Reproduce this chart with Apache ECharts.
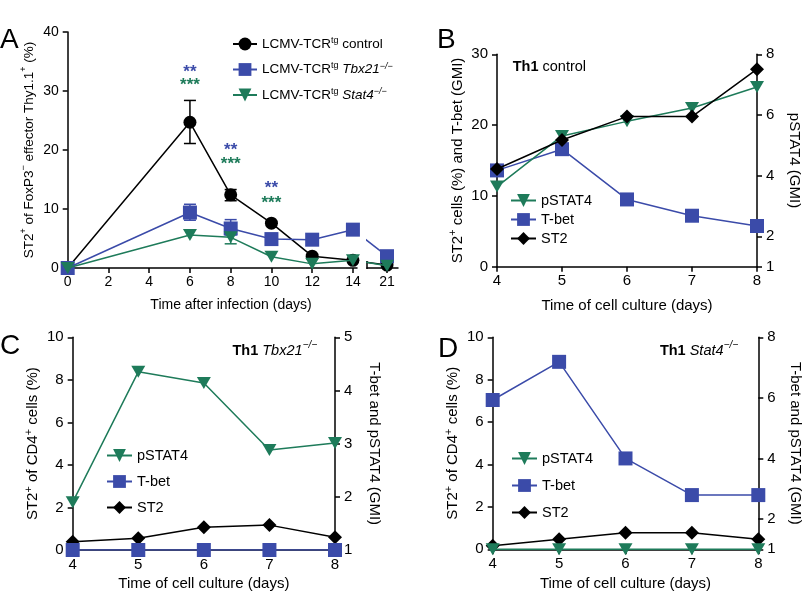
<!DOCTYPE html>
<html><head><meta charset="utf-8">
<script src="https://cdn.jsdelivr.net/npm/echarts@6/dist/echarts.min.js"></script>
<style>html,body{margin:0;padding:0;background:#fff}#c{width:805px;height:595px}</style>
</head><body><div id="c"></div>
<script>
// ---------- DATA ----------
// Panel A
const daysA = [0, 6, 8, 10, 12, 14, 21];
const ctrlA = [0, 24.7, 12.4, 7.6, 2.0, 1.3, 0.5];
const tbxA  = [0, 9.4, 6.7, 4.9, 4.8, 6.5, 2.0];
const statA = [0, 5.6, 5.2, 1.9, 0.7, 1.3, 0.4];
const errDaysCtrl = [6, 8];  const errLowCtrl = [21.1, 11.4]; const errHighCtrl = [28.4, 13.3];
const errDaysTbx  = [6, 8];  const errLowTbx  = [8.1, 5.6];   const errHighTbx  = [10.8, 8.2];
const errDaysStat = [8];     const errLowStat = [4.1];        const errHighStat = [6.2];
const starDays = [6, 8, 10];
const starTbxY  = [33.1, 19.9, 13.5];
const starStatY = [30.9, 17.5, 10.9];
const ticksA = [0, 2, 4, 6, 8, 10, 12, 14];
const ticksA2 = [21];
// Panels B-D
const daysCulture = [4, 5, 6, 7, 8];
const B_st2 = [13.8, 17.9, 21.2, 21.2, 27.9];
const B_tbet = [13.6, 16.6, 9.5, 7.2, 5.75];
const B_pstat4 = [3.64, 5.31, 5.79, 6.23, 6.92];
const C_st2 = [0.39, 0.55, 1.07, 1.17, 0.6];
const C_tbet = [1, 1, 1, 1, 1];
const C_pstat4 = [1.9, 4.35, 4.14, 2.88, 3.01];
const D_st2 = [0.17, 0.47, 0.78, 0.78, 0.47];
const D_tbet = [5.93, 7.19, 4.0, 2.79, 2.79];
const D_pstat4 = [1, 1, 1, 1, 1];
const rightTicks8 = [1, 2, 4, 6, 8];

// ---------- STYLE ----------
const FONT = "'Liberation Sans', Arial, Helvetica, sans-serif";
const BLACK = '#000000', BLUE = '#3B4BA9', GREEN = '#1E7B5A';
const pairs = (xs, ys) => xs.map((x, i) => [x, ys[i]]);
const mkRich = (fs) => ({
  sup: {fontSize: Math.round(fs * 0.7), verticalAlign: 'top', lineHeight: 10, fontFamily: FONT, color: '#000'},
  it: {fontStyle: 'italic', fontSize: fs, fontFamily: FONT, color: '#000'},
  supit: {fontSize: Math.round(fs * 0.7), fontStyle: 'italic', verticalAlign: 'top', lineHeight: 10, fontFamily: FONT, color: '#000'}
});
const TICK = {show: true, length: 5, lineStyle: {color: '#000', width: 1.5}};
const lbl = (margin, fs, extra) => Object.assign({color: '#000', fontSize: fs, fontFamily: FONT, margin}, extra || {});
function axisBase(fs, extra) {
  return Object.assign({
    type: 'value',
    axisLine: {show: true, onZero: false, lineStyle: {color: '#000', width: 1.5}},
    axisTick: TICK,
    splitLine: {show: false},
    nameTextStyle: {color: '#000', fontSize: fs, fontFamily: FONT, lineHeight: 20, rich: mkRich(fs)}
  }, extra);
}

const grids = [
  {left: 67.7, top: 32, width: 289.3, height: 236},
  {left: 367, top: 32, width: 31, height: 236},
  {left: 497, top: 54.3, width: 260, height: 212.4},
  {left: 72.7, top: 337.3, width: 262.3, height: 212.7},
  {left: 492.7, top: 337.3, width: 265.6, height: 212}
].map(g => Object.assign({outerBoundsMode: 'none', containLabel: false}, g));

const cultureX = (gi, gap) => axisBase(15, {gridIndex: gi, min: 4, max: 8, interval: 1, axisLabel: lbl(7, 15),
  name: 'Time of cell culture (days)', nameLocation: 'middle', nameGap: gap});

const xAxes = [
  axisBase(14, {gridIndex: 0, min: 0, max: 14.2,
    axisLabel: lbl(7, 14, {customValues: ticksA}),
    axisTick: Object.assign({customValues: ticksA}, TICK)}),
  axisBase(14, {gridIndex: 1, min: 16.88, max: 23.26,
    axisLabel: lbl(7, 14, {customValues: ticksA2}),
    axisTick: Object.assign({customValues: ticksA2}, TICK)}),
  cultureX(2, 29), cultureX(3, 24), cultureX(4, 25)
];

const yAxes = [
  axisBase(13.5, {gridIndex: 0, min: 0, max: 40, interval: 10, nameLocation: 'middle', nameGap: 25, axisLabel: lbl(9, 14),
    name: 'ST2{sup|+} of FoxP3{sup|−} effector Thy1.1{sup|+} (%)'}),
  axisBase(13.5, {gridIndex: 1, min: 0, max: 40, show: false}),
  axisBase(15, {gridIndex: 2, min: 0, max: 30, interval: 10, nameLocation: 'middle', nameGap: 26, axisLabel: lbl(9, 15),
    name: 'ST2{sup|+} cells (%) and T-bet (GMI)'}),
  axisBase(15, {gridIndex: 2, min: 1, max: 8, position: 'right', nameLocation: 'middle', nameGap: 27, nameRotate: -90,
    name: 'pSTAT4 (GMI)',
    axisLabel: lbl(9, 15, {customValues: rightTicks8}),
    axisTick: Object.assign({customValues: rightTicks8}, TICK)}),
  axisBase(15, {gridIndex: 3, min: 0, max: 10, interval: 2, nameLocation: 'middle', nameGap: 28, axisLabel: lbl(9, 15),
    name: 'ST2{sup|+} of CD4{sup|+} cells (%)'}),
  axisBase(15, {gridIndex: 3, min: 1, max: 5, interval: 1, position: 'right', nameLocation: 'middle', nameGap: 29, nameRotate: -90,
    axisLabel: lbl(9, 15), name: 'T-bet and pSTAT4 (GMI)'}),
  axisBase(15, {gridIndex: 4, min: 0, max: 10, interval: 2, nameLocation: 'middle', nameGap: 26, axisLabel: lbl(9, 15),
    name: 'ST2{sup|+} of CD4{sup|+} cells (%)'}),
  axisBase(15, {gridIndex: 4, min: 1, max: 8, position: 'right', nameLocation: 'middle', nameGap: 27, nameRotate: -90,
    name: 'T-bet and pSTAT4 (GMI)',
    axisLabel: lbl(9, 15, {customValues: rightTicks8}),
    axisTick: Object.assign({customValues: rightTicks8}, TICK)})
];

const symCircle = {symbol: 'circle', symbolSize: 13};
const symSquare = {symbol: 'rect', symbolSize: 14};
const symTriDown = {symbol: 'triangle', symbolSize: [14, 12], symbolRotate: 180};
const symDiamond = {symbol: 'diamond', symbolSize: 14};

function lineSeries(name, color, sym, xi, yi, data, z) {
  return Object.assign({
    type: 'line', name, xAxisIndex: xi, yAxisIndex: yi, data, clip: true,
    color, lineStyle: {color, width: 1.5}, itemStyle: {color, opacity: 1},
    showAllSymbol: true, animation: false, z: z || 2
  }, sym);
}
function errSeries(color, xi, yi, xs, lo, hi) {
  return {
    type: 'custom', xAxisIndex: xi, yAxisIndex: yi, animation: false, z: 1,
    data: xs.map((x, i) => [x, lo[i], hi[i]]),
    renderItem: (params, api) => {
      const p1 = api.coord([api.value(0), api.value(1)]);
      const p2 = api.coord([api.value(0), api.value(2)]);
      const w = 6;
      const st = {stroke: color, lineWidth: 1.5};
      return {type: 'group', children: [
        {type: 'line', shape: {x1: p1[0], y1: p1[1], x2: p2[0], y2: p2[1]}, style: st},
        {type: 'line', shape: {x1: p1[0] - w, y1: p1[1], x2: p1[0] + w, y2: p1[1]}, style: st},
        {type: 'line', shape: {x1: p2[0] - w, y1: p2[1], x2: p2[0] + w, y2: p2[1]}, style: st}
      ]};
    }
  };
}
function starSeries(color, text, ys) {
  return {
    type: 'custom', xAxisIndex: 0, yAxisIndex: 0, animation: false, silent: true, z: 6,
    data: starDays.map((d, i) => [d, ys[i]]),
    renderItem: (params, api) => {
      const p = api.coord([api.value(0), api.value(1)]);
      return {type: 'text', x: p[0], y: p[1], style: {text, fill: color, font: `bold 17px ${FONT}`, align: 'center', verticalAlign: 'middle'}};
    }
  };
}

const upTo14 = (arr) => pairs(daysA, arr).filter(p => p[0] <= 14);
const after14 = (arr) => pairs(daysA, arr).filter(p => p[0] >= 14);

const series = [
  errSeries(BLACK, 0, 0, errDaysCtrl, errLowCtrl, errHighCtrl),
  errSeries(BLUE, 0, 0, errDaysTbx, errLowTbx, errHighTbx),
  errSeries(GREEN, 0, 0, errDaysStat, errLowStat, errHighStat),
  lineSeries('ctrl', BLACK, symCircle, 0, 0, upTo14(ctrlA), 3),
  lineSeries('tbx', BLUE, symSquare, 0, 0, upTo14(tbxA), 4),
  lineSeries('stat', GREEN, symTriDown, 0, 0, upTo14(statA), 5),
  lineSeries('ctrl', BLACK, symCircle, 1, 1, after14(ctrlA), 3),
  lineSeries('tbx', BLUE, symSquare, 1, 1, after14(tbxA), 4),
  lineSeries('stat', GREEN, symTriDown, 1, 1, after14(statA), 5),
  starSeries(BLUE, '**', starTbxY),
  starSeries(GREEN, '***', starStatY),
  // B
  lineSeries('T-bet', BLUE, symSquare, 2, 2, pairs(daysCulture, B_tbet), 3),
  lineSeries('pSTAT4', GREEN, symTriDown, 2, 3, pairs(daysCulture, B_pstat4), 4),
  lineSeries('ST2', BLACK, symDiamond, 2, 2, pairs(daysCulture, B_st2), 5),
  // C
  lineSeries('pSTAT4', GREEN, symTriDown, 3, 5, pairs(daysCulture, C_pstat4), 3),
  lineSeries('ST2', BLACK, symDiamond, 3, 4, pairs(daysCulture, C_st2), 4),
  lineSeries('T-bet', BLUE, symSquare, 3, 5, pairs(daysCulture, C_tbet), 5),
  // D
  lineSeries('T-bet', BLUE, symSquare, 4, 7, pairs(daysCulture, D_tbet), 3),
  lineSeries('ST2', BLACK, symDiamond, 4, 6, pairs(daysCulture, D_st2), 4),
  lineSeries('pSTAT4', GREEN, symTriDown, 4, 7, pairs(daysCulture, D_pstat4), 5)
];

const legendNamesA = ['ctrl', 'tbx', 'stat'];
const legendLabelsA = {
  ctrl: 'LCMV-TCR{sup|tg} control',
  tbx: 'LCMV-TCR{sup|tg} {it|Tbx21}{supit|−/−}',
  stat: 'LCMV-TCR{sup|tg} {it|Stat4}{supit|−/−}'
};
const legendNamesBCD = ['pSTAT4', 'T-bet', 'ST2'];
function legendBCD(left, top, gap) {
  return {orient: 'vertical', left, top, itemWidth: 25, itemHeight: 16, itemGap: gap, data: legendNamesBCD,
    selectedMode: false, textStyle: {fontSize: 14.5, fontFamily: FONT, color: '#000'}, padding: 0};
}

const letter = (t, x, y) => ({type: 'text', x, y, style: {text: t, font: `28px ${FONT}`, fill: '#000', verticalAlign: 'alphabetic'}});
const richTitle = (text, x, y, align) => ({type: 'text', x, y, style: {
  text, fontSize: 14.5, fontFamily: FONT, fill: '#000', align: align || 'left', verticalAlign: 'middle',
  rich: {b: {fontWeight: 'bold', fontSize: 14.5, fontFamily: FONT}, it: {fontStyle: 'italic', fontSize: 14.5, fontFamily: FONT},
         supit: {fontStyle: 'italic', fontSize: 10, fontFamily: FONT, verticalAlign: 'top', lineHeight: 10}},
  lineHeight: 22}});

const option = {
  backgroundColor: '#fff',
  animation: false,
  grid: grids,
  xAxis: xAxes,
  yAxis: yAxes,
  series,
  legend: [
    {orient: 'vertical', left: 232, top: 36, itemWidth: 24, itemHeight: 16, itemGap: 9.5, data: legendNamesA,
     selectedMode: false, padding: 0, formatter: n => legendLabelsA[n],
     textStyle: {fontSize: 13.5, fontFamily: FONT, color: '#000', lineHeight: 16, rich: mkRich(13.5)}},
    legendBCD(510, 193, 4),
    legendBCD(106, 448, 11),
    legendBCD(511, 451, 12)
  ],
  graphic: [
    letter('A', 0, 26), letter('B', 437, 26), letter('C', 0, 332), letter('D', 438, 335),
    {type: 'text', x: 231, y: 305, style: {text: 'Time after infection (days)', font: `14px ${FONT}`, fill: '#000', align: 'center', verticalAlign: 'middle'}},
    {type: 'line', shape: {x1: 367, y1: 261, x2: 367, y2: 269}, style: {stroke: '#000', lineWidth: 1.5}},
    richTitle('{b|Th1} control', 512.7, 66.7),
    richTitle('{b|Th1} {it|Tbx21}{supit|−/−}', 317, 351, 'right'),
    richTitle('{b|Th1} {it|Stat4}{supit|−/−}', 738, 351, 'right')
  ]
};
const chart = echarts.init(document.getElementById('c'), null, {renderer: 'canvas'});
chart.setOption(option);
</script></body></html>
